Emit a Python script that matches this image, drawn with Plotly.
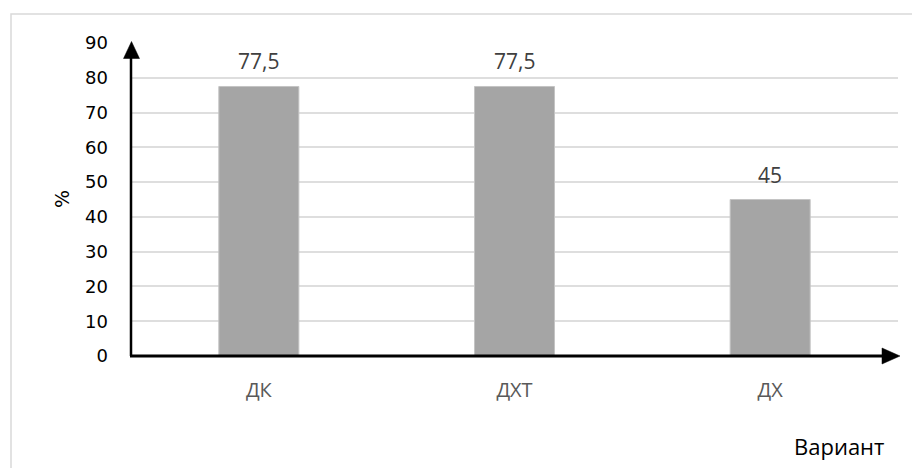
import plotly.graph_objects as go

# Data
categories = ["ДК", "ДХТ", "ДХ"]
values = [77.5, 77.5, 45]
y_ticks = [0, 10, 20, 30, 40, 50, 60, 70, 80, 90]

W, H = 912, 468
L, R, T, B = 131, 14, 43, 112   # plot-area margins in px
pw, ph = W - L - R, H - T - B

def px(x):
    return (x - L) / pw

def py(y):
    return (H - B - y) / ph

labels = [f"{v:g}".replace(".", ",") for v in values]

fig = go.Figure()
fig.add_trace(go.Bar(
    x=categories, y=values,
    marker=dict(color="#a5a5a5", line=dict(color="#c4c4c4", width=1)),
    width=0.313,
    hoverinfo="skip",
))

for c, v, t in zip(categories, values, labels):
    fig.add_annotation(x=c, y=v, text=t, showarrow=False, yanchor="middle",
                       yshift=25, font=dict(family="Open Sans", size=21, color="#404040"))

# axis arrows, frame, titles
shapes = [
    # outer frame
    dict(type="rect", xref="paper", yref="paper",
         x0=px(11), x1=px(930), y0=py(490), y1=py(14),
         line=dict(color="#d9d9d9", width=1.5), layer="below"),
    # y axis line
    dict(type="line", xref="paper", yref="paper", x0=0, x1=0, y0=0, y1=py(50),
         line=dict(color="black", width=2.5)),
    # x axis line
    dict(type="line", xref="paper", yref="paper", x0=px(130), x1=px(890), y0=0, y1=0,
         line=dict(color="black", width=3)),
    # y arrowhead
    dict(type="path", xref="paper", yref="paper",
         path=f"M {px(123.5)} {py(58.5)} L {px(139.5)} {py(58.5)} L {px(131.5)} {py(41.5)} Z",
         fillcolor="black", line=dict(color="black", width=0.5)),
    # x arrowhead
    dict(type="path", xref="paper", yref="paper",
         path=f"M {px(882)} {py(348)} L {px(882)} {py(364)} L {px(900)} {py(356)} Z",
         fillcolor="black", line=dict(color="black", width=0.5)),
]

fig.add_annotation(xref="paper", yref="paper", x=px(62), y=py(199), text="%",
                   textangle=-90, showarrow=False, xanchor="center", yanchor="middle",
                   font=dict(family="DejaVu Sans", size=19, color="black"))
fig.add_annotation(xref="paper", yref="paper", x=px(886), y=py(446), text="Вариант",
                   xanchor="right", yanchor="middle", showarrow=False,
                   font=dict(family="Open Sans", size=22, color="black"))

fig.update_layout(
    width=W, height=H,
    margin=dict(l=L, r=R, t=T, b=B),
    paper_bgcolor="white", plot_bgcolor="white",
    showlegend=False,
    shapes=shapes,
    xaxis=dict(showgrid=False, showline=False, ticks="", zeroline=False,
               tickfont=dict(family="Open Sans", size=20, color="#595959"),
               ticklabelstandoff=20),
    yaxis=dict(range=[0, 90], tickvals=y_ticks, showgrid=True, gridcolor="#dedede",
               gridwidth=1.5, zeroline=False, showline=False, ticks="",
               tickfont=dict(family="DejaVu Sans", size=18, color="black"),
               ticklabelstandoff=22),
)

fig.write_html("out.html")
